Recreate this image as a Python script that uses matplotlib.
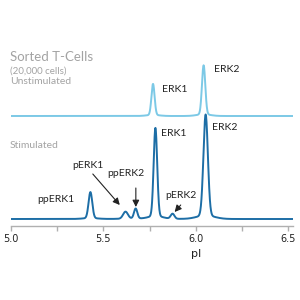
import numpy as np
import matplotlib
matplotlib.use('Agg')
import matplotlib.pyplot as plt
from matplotlib.ticker import MultipleLocator

# peaks: position (pI), height, width
unstim_pos = [5.769, 6.043]
unstim_h = [31, 49]
unstim_w = [0.0085, 0.009]

stim_pos = [5.43, 5.62, 5.675, 5.782, 5.875, 6.054]
stim_h = [26, 7, 10, 88, 5, 101]
stim_w = [0.010, 0.013, 0.009, 0.0095, 0.010, 0.012]

unstim_offset = 103

tick_vals = [5.0, 5.5, 6.0, 6.5]

light = '#7cc9e6'
dark = '#1d6ea6'
grey = '#a3a3a3'


def trace(x, pos, h, w):
    y = np.zeros_like(x)
    for p, a, s in zip(pos, h, w):
        y += a * np.exp(-0.5 * ((x - p) / s) ** 2)
        # small broad foot under each peak
        y += a * 0.035 * np.exp(-0.5 * ((x - p) / (s * 4)) ** 2)
    return y


x = np.linspace(5.0, 6.527, 2000)

fig = plt.figure(figsize=(3, 3), dpi=100)
ax = fig.add_axes([11 / 300, 74 / 300, 282 / 300, 226 / 300])

ax.plot(x, trace(x, unstim_pos, unstim_h, unstim_w) + unstim_offset,
        color=light, lw=1.4)
ax.plot(x, trace(x, stim_pos, stim_h, stim_w), color=dark, lw=1.4)

ax.set_xlim(5.0, 6.527)
ax.set_ylim(-7, 219)

for s in ['top', 'left', 'right']:
    ax.spines[s].set_visible(False)
ax.spines['bottom'].set_color('#b0b0b0')
ax.spines['bottom'].set_linewidth(1.0)
ax.set_yticks([])
ax.set_xticks(tick_vals)
ax.set_xticklabels(['%.1f' % v for v in tick_vals])
ax.xaxis.set_minor_locator(MultipleLocator(0.25))
ax.tick_params(axis='x', which='both', direction='out', length=3.5,
               color='#b0b0b0', width=1.0, labelsize=7, pad=2.5,
               labelcolor='#222222')

ax.text(6.0, -35, 'pI', ha='center', va='center', fontsize=8,
        color='#222222', clip_on=False)

fam = 'Lato'
ax.text(4.995, 162, 'Sorted T-Cells', fontsize=9.5, color=grey,
        family=fam, va='center', ha='left')
ax.text(4.995, 148, '(20,000 cells)', fontsize=7, color=grey,
        family=fam, va='center', ha='left')
ax.text(4.995, 137, 'Unstimulated', fontsize=7.5, color=grey,
        family=fam, va='center', ha='left')
ax.text(4.995, 74, 'Stimulated', fontsize=7.5, color=grey,
        family=fam, va='center', ha='left')

lab = dict(fontsize=7.5, color='#222222', family=fam,
           ha='center', va='center')
ax.text(5.884, 129, 'ERK1', **lab)
ax.text(6.170, 149, 'ERK2', **lab)
ax.text(5.881, 86, 'ERK1', **lab)
ax.text(6.159, 91, 'ERK2', **lab)
ax.text(5.243, 19, 'ppERK1', **lab)

arr = dict(arrowstyle='-|>,head_length=0.4,head_width=0.2', color='#222222',
           lw=0.8, shrinkA=0, shrinkB=0)
ax.text(5.414, 53, 'pERK1', **lab)
ax.annotate('', xy=(5.589, 14), xytext=(5.443, 45), arrowprops=arr)
ax.text(5.624, 45, 'ppERK2', **lab)
ax.annotate('', xy=(5.676, 12), xytext=(5.676, 31), arrowprops=arr)
ax.text(5.919, 23, 'pERK2', **lab)
ax.annotate('', xy=(5.886, 7), xytext=(5.919, 14), arrowprops=arr)

fig.savefig('out.png', dpi=100)
